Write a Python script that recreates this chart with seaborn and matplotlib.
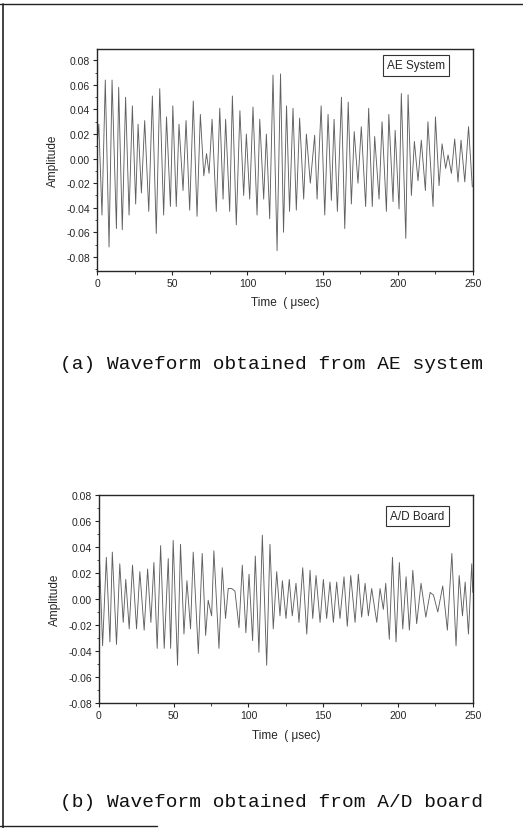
import matplotlib

matplotlib.use("Agg")
import matplotlib.pyplot as plt
import pandas as pd
import seaborn as sns
from matplotlib.lines import Line2D
from matplotlib.ticker import MultipleLocator, FormatStrFormatter


# ================================================================
# 0. Data (peaks / troughs)
# ================================================================
ae_time = [
    0.0, 1.2, 3.3, 5.5, 8.0, 10.0, 12.9, 14.4, 16.8, 19.0,
    21.3, 23.5, 25.7, 27.3, 29.5, 31.7, 34.4, 36.8, 39.4, 41.7,
    44.3, 46.2, 48.8, 50.4, 52.7, 54.5, 57.2, 59.2, 61.6, 64.0,
    66.5, 68.7, 71.0, 72.8, 74.5, 76.5, 79.3, 81.6, 83.8, 85.5,
    88.2, 90.0, 92.6, 95.0, 97.5, 99.3, 101.5, 103.7, 106.4, 108.2,
    110.8, 112.6, 114.8, 117.0, 119.7, 122.0, 124.0, 126.0, 128.0, 130.3,
    132.5, 134.7, 137.4, 139.2, 141.8, 144.7, 146.3, 149.0, 151.4, 153.6,
    155.8, 157.6, 159.8, 162.5, 164.7, 167.0, 169.1, 171.0, 173.5, 175.7,
    178.6, 180.6, 183.0, 184.6, 187.5, 189.5, 192.4, 194.0, 196.8, 198.2,
    200.8, 202.3, 205.3, 206.8, 209.0, 211.0, 213.4, 215.6, 218.3, 220.0,
    223.4, 225.0, 227.4, 229.4, 231.8, 233.4, 235.6, 237.8, 240.0, 242.0,
    244.5, 247.0, 249.5,
]
ae_amp = [
    0.010, 0.028, -0.046, 0.064, -0.072, 0.064, -0.057, 0.058, -0.058, 0.050,
    -0.046, 0.043, -0.037, 0.028, -0.028, 0.031, -0.043, 0.051, -0.061, 0.057,
    -0.046, 0.034, -0.039, 0.043, -0.039, 0.028, -0.026, 0.031, -0.042, 0.047,
    -0.047, 0.036, -0.014, 0.004, -0.012, 0.032, -0.043, 0.041, -0.033, 0.032,
    -0.043, 0.051, -0.054, 0.039, -0.030, 0.020, -0.033, 0.042, -0.046, 0.032,
    -0.033, 0.020, -0.049, 0.068, -0.075, 0.069, -0.060, 0.043, -0.043, 0.041,
    -0.042, 0.033, -0.033, 0.020, -0.020, 0.019, -0.033, 0.043, -0.046, 0.036,
    -0.034, 0.032, -0.043, 0.050, -0.057, 0.046, -0.037, 0.022, -0.020, 0.026,
    -0.039, 0.041, -0.039, 0.018, -0.033, 0.030, -0.043, 0.036, -0.035, 0.023,
    -0.041, 0.053, -0.065, 0.052, -0.030, 0.014, -0.018, 0.015, -0.026, 0.030,
    -0.039, 0.034, -0.022, 0.012, -0.008, 0.003, -0.012, 0.016, -0.019, 0.015,
    -0.019, 0.026, -0.023,
]

ad_time = [
    0.2, 2.5, 5.0, 7.4, 9.0, 11.8, 14.0, 16.3, 18.0, 20.3,
    22.5, 25.2, 27.4, 30.3, 32.6, 34.8, 36.8, 39.0, 41.3, 43.7,
    46.4, 48.0, 49.7, 52.6, 54.6, 56.9, 58.9, 61.3, 63.1, 66.5,
    69.1, 71.4, 73.1, 75.4, 76.9, 80.3, 82.5, 84.7, 86.5, 88.8,
    91.0, 93.7, 95.9, 98.3, 100.4, 102.8, 104.6, 107.0, 109.3, 112.2,
    114.4, 116.6, 118.9, 121.1, 122.7, 125.1, 127.3, 129.3, 131.8, 133.8,
    136.3, 139.0, 141.2, 143.0, 145.2, 147.9, 150.1, 152.3, 154.5, 156.8,
    159.0, 161.2, 163.9, 166.1, 168.4, 171.3, 173.5, 175.7, 178.0, 180.2,
    182.4, 185.8, 188.0, 190.2, 191.8, 194.2, 196.3, 198.7, 200.9, 203.2,
    205.4, 207.6, 209.9, 212.5, 215.4, 218.6, 221.5, 223.7, 226.6, 229.9,
    233.0, 236.0, 238.8, 240.9, 243.1, 244.9, 247.1, 249.3, 250.0,
]
ad_amp = [
    0.038, -0.036, 0.032, -0.033, 0.036, -0.035, 0.027, -0.018, 0.015, -0.023,
    0.026, -0.023, 0.021, -0.024, 0.023, -0.018, 0.028, -0.038, 0.041, -0.038,
    0.031, -0.038, 0.045, -0.051, 0.042, -0.027, 0.014, -0.023, 0.036, -0.042,
    0.035, -0.028, -0.001, -0.013, 0.037, -0.038, 0.024, -0.015, 0.008, 0.008,
    0.006, -0.022, 0.026, -0.026, 0.019, -0.032, 0.033, -0.041, 0.049, -0.051,
    0.042, -0.023, 0.021, -0.013, 0.014, -0.015, 0.015, -0.013, 0.012, -0.018,
    0.024, -0.027, 0.022, -0.015, 0.018, -0.018, 0.015, -0.015, 0.013, -0.018,
    0.013, -0.015, 0.017, -0.021, 0.018, -0.018, 0.019, -0.014, 0.012, -0.013,
    0.008, -0.018, 0.008, -0.008, 0.012, -0.031, 0.032, -0.033, 0.028, -0.023,
    0.017, -0.024, 0.022, -0.019, 0.012, -0.014, 0.005, 0.003, -0.010, 0.010,
    -0.024, 0.035, -0.036, 0.018, -0.013, 0.013, -0.027, 0.027, 0.005,
]

panels = [
    {"time": ae_time, "amp": ae_amp, "tag": "AE System",
     "caption": "(a) Waveform obtained from AE system"},
    {"time": ad_time, "amp": ad_amp, "tag": "A/D Board",
     "caption": "(b) Waveform obtained from A/D board"},
]

# ================================================================
# 1. Style
# ================================================================
sns.set_style("ticks")
plt.rcParams["font.family"] = ["Liberation Sans", "DejaVu Sans"]
plt.rcParams["axes.linewidth"] = 1.0

fig = plt.figure(figsize=(5.23, 8.29), dpi=100)

axes_rects = [
    [0.1855, 0.672, 0.719, 0.268],
    [0.189, 0.1508, 0.715, 0.251],
]
ylims = [(-0.0915, 0.0895), (-0.08, 0.08)]
tag_pos = [(0.925, 0.925), (0.925, 0.9)]
xlabel_y = [0.634, 0.112]
caption_y = [0.56, 0.032]

# ================================================================
# 2. Draw panels
# ================================================================
for i, p in enumerate(panels):
    ax = fig.add_axes(axes_rects[i])
    df = pd.DataFrame({"Time": p["time"], "Amplitude": p["amp"]})
    sns.lineplot(data=df, x="Time", y="Amplitude", ax=ax, color="#606060",
                 linewidth=0.65, estimator=None)

    ax.set_xlim(0, 250)
    ax.set_ylim(*ylims[i])
    ax.xaxis.set_major_locator(MultipleLocator(50))
    ax.xaxis.set_minor_locator(MultipleLocator(25))
    ax.yaxis.set_major_locator(MultipleLocator(0.02))
    ax.yaxis.set_minor_locator(MultipleLocator(0.01))
    ax.yaxis.set_major_formatter(FormatStrFormatter("%.2f"))
    ax.tick_params(which="major", direction="out", length=3, width=0.8,
                   labelsize=7.5, pad=2)
    ax.tick_params(which="minor", direction="out", length=1.8, width=0.6)

    ax.set_xlabel("")
    ax.set_ylabel("Amplitude", fontsize=8.5, labelpad=5)
    fig.text(axes_rects[i][0] + axes_rects[i][2] / 2, xlabel_y[i],
             "Time  ( \u03bcsec)", ha="center", va="center", fontsize=8.5)

    ax.text(tag_pos[i][0], tag_pos[i][1], p["tag"], transform=ax.transAxes,
            ha="right", va="center", fontsize=8.5,
            bbox=dict(boxstyle="square,pad=0.35", facecolor="white",
                      edgecolor="#333333", linewidth=0.8))

    fig.text(0.52, caption_y[i], p["caption"], ha="center", va="center",
             fontsize=14, family=["Liberation Mono", "DejaVu Sans Mono"],
             color="#111111")

# outer frame of the scanned figure
fig.add_artist(Line2D([0.005, 0.005], [0.0, 0.994], color="#222222", linewidth=1.2))
fig.add_artist(Line2D([0.0, 1.0], [0.994, 0.994], color="#222222", linewidth=1.0))
fig.add_artist(Line2D([0.0, 0.3], [0.002, 0.002], color="#222222", linewidth=1.0))

plt.savefig("out.png", dpi=100)
plt.close()
